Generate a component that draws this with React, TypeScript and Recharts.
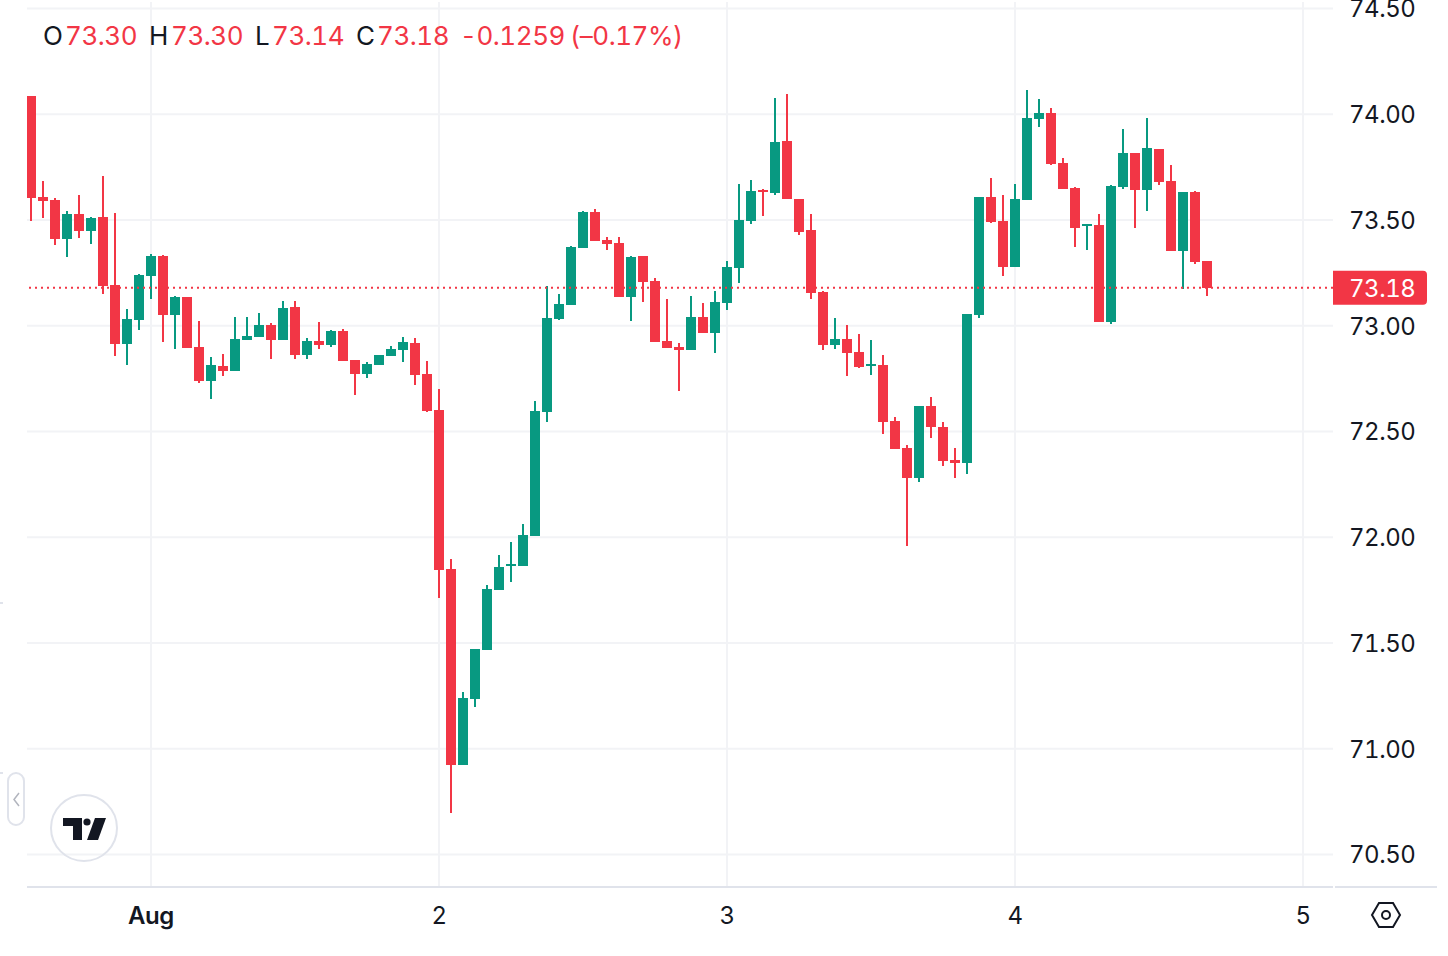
import { Bar, CartesianGrid, ComposedChart, ReferenceLine, XAxis, YAxis } from 'recharts';

const UP = '#089981';
const DOWN = '#f23645';
const INK = '#131722';
const GRID = '#f2f3f6';
const BORDER = '#e0e3eb';
const FONT = 'Inter, sans-serif';

const opens = [
  74.086, 73.609, 73.594, 73.41, 73.528, 73.448, 73.514, 73.192, 72.913, 73.027,
  73.235, 73.33, 73.051, 73.136, 72.899, 72.739, 72.81, 72.786, 72.932, 72.947,
  73.003, 72.932, 73.088, 72.861, 72.928, 72.909, 72.975, 72.838, 72.772, 72.814,
  72.857, 72.885, 72.918, 72.772, 72.601, 71.85, 70.923, 71.235, 71.467, 71.75,
  71.864, 71.864, 72.006, 72.592, 73.032, 73.098, 73.367, 73.538, 73.405, 73.391,
  73.136, 73.33, 73.211, 72.928, 72.899, 72.885, 73.041, 72.966, 73.107, 73.273,
  73.495, 73.642, 73.627, 73.873, 73.599, 73.452, 73.159, 72.909, 72.937, 72.876,
  72.81, 72.814, 72.549, 72.421, 72.28, 72.62, 72.521, 72.365, 72.351, 73.051,
  73.609, 73.495, 73.278, 73.594, 73.977, 74.006, 73.769, 73.651, 73.471, 73.476,
  73.017, 73.656, 73.817, 73.642, 73.835, 73.684, 73.353, 73.632, 73.306,
];
const highs = [
  74.086, 73.684, 73.604, 73.542, 73.618, 73.514, 73.708, 73.533, 73.079, 73.244,
  73.339, 73.334, 73.14, 73.136, 73.022, 72.852, 72.866, 73.041, 73.041, 73.06,
  73.013, 73.117, 73.117, 72.942, 73.017, 72.98, 72.984, 72.838, 72.828, 72.861,
  72.904, 72.947, 72.942, 72.833, 72.701, 71.897, 71.268, 71.471, 71.774, 71.916,
  71.977, 72.062, 72.644, 73.188, 73.15, 73.377, 73.542, 73.552, 73.419, 73.419,
  73.33, 73.33, 73.226, 73.126, 72.918, 73.14, 73.107, 73.164, 73.306, 73.67,
  73.689, 73.646, 74.077, 74.096, 73.599, 73.528, 73.164, 73.036, 73.003, 72.961,
  72.932, 72.861, 72.568, 72.436, 72.62, 72.663, 72.545, 72.421, 73.055, 73.609,
  73.698, 73.618, 73.67, 74.114, 74.072, 74.029, 73.793, 73.656, 73.481, 73.528,
  73.665, 73.93, 73.817, 73.982, 73.835, 73.76, 73.632, 73.637, 73.306,
];
const lows = [
  73.495, 73.509, 73.382, 73.325, 73.415, 73.386, 73.15, 72.857, 72.814, 72.98,
  73.126, 72.923, 72.89, 72.894, 72.729, 72.653, 72.762, 72.786, 72.932, 72.947,
  72.843, 72.932, 72.843, 72.843, 72.89, 72.899, 72.833, 72.672, 72.753, 72.814,
  72.857, 72.828, 72.72, 72.592, 71.712, 70.696, 70.923, 71.197, 71.467, 71.75,
  71.788, 71.864, 72.006, 72.545, 73.027, 73.098, 73.367, 73.4, 73.358, 73.136,
  73.022, 73.112, 72.923, 72.894, 72.691, 72.885, 72.966, 72.871, 73.074, 73.202,
  73.481, 73.519, 73.618, 73.599, 73.429, 73.126, 72.885, 72.89, 72.762, 72.8,
  72.767, 72.488, 72.417, 71.958, 72.261, 72.469, 72.337, 72.28, 72.299, 73.036,
  73.486, 73.235, 73.278, 73.594, 73.939, 73.76, 73.646, 73.372, 73.358, 73.017,
  73.008, 73.646, 73.462, 73.542, 73.665, 73.353, 73.173, 73.292, 73.14,
];
const closes = [
  73.604, 73.59, 73.41, 73.528, 73.448, 73.509, 73.188, 72.913, 73.032, 73.24,
  73.33, 73.051, 73.136, 72.894, 72.739, 72.814, 72.786, 72.937, 72.951, 73.003,
  72.932, 73.084, 72.861, 72.928, 72.909, 72.975, 72.833, 72.772, 72.819, 72.861,
  72.89, 72.923, 72.767, 72.597, 71.845, 70.923, 71.24, 71.471, 71.755, 71.859,
  71.873, 72.01, 72.597, 73.036, 73.103, 73.372, 73.538, 73.4, 73.386, 73.136,
  73.325, 73.206, 72.923, 72.894, 72.885, 73.041, 72.966, 73.112, 73.278, 73.5,
  73.637, 73.632, 73.869, 73.599, 73.443, 73.155, 72.909, 72.937, 72.871, 72.805,
  72.819, 72.545, 72.417, 72.28, 72.62, 72.521, 72.36, 72.351, 73.055, 73.609,
  73.49, 73.278, 73.599, 73.982, 74.006, 73.765, 73.646, 73.462, 73.481, 73.017,
  73.661, 73.817, 73.642, 73.84, 73.679, 73.353, 73.632, 73.301, 73.18,
];

const priceTicks = [70.5, 71, 71.5, 72, 72.5, 73, 73.5, 74, 74.5];
const timeTicks = [10, 34, 58, 82, 106];
const timeLabels = ['Aug', '2', '3', '4', '5'];
const lastPrice = 73.18;

const candles = opens.map((o, i) => ({
  i,
  o,
  h: highs[i],
  l: lows[i],
  c: closes[i],
  range: [lows[i], highs[i]],
}));

function Candle(props: any) {
  const { x, y, width, height, payload } = props;
  const { o, h, l, c } = payload;
  const color = c >= o ? UP : DOWN;
  const cx = Math.round(x + width / 2);
  const perUnit = height / (h - l);
  const top = Math.round(y + (h - Math.max(o, c)) * perUnit);
  const bottom = Math.round(y + (h - Math.min(o, c)) * perUnit);
  return (
    <g>
      <rect x={cx - 1} y={Math.round(y)} width={2} height={Math.round(y + height) - Math.round(y)} fill={color} />
      <rect x={cx - 5} y={top} width={10} height={Math.max(bottom - top, 2)} fill={color} />
    </g>
  );
}

function TimeTick(props: any) {
  const { x, y, index } = props;
  const label = timeLabels[index];
  return (
    <text
      x={x}
      y={y - 1}
      textAnchor="middle"
      dominantBaseline="central"
      fontFamily={FONT}
      fontSize={24}
      fontWeight={label === 'Aug' ? 600 : 400}
      fill={INK}
    >
      {label}
    </text>
  );
}

function PriceBadge(props: any) {
  const { viewBox } = props;
  const left = viewBox.x + viewBox.width;
  const y = viewBox.y;
  return (
    <g>
      <path
        d={`M${left} ${y - 17}H${left + 90}a4 4 0 0 1 4 4V${y + 13}a4 4 0 0 1 -4 4H${left}Z`}
        fill={DOWN}
      />
      <text x={left + 16} y={y + 1} dominantBaseline="central" fontFamily={FONT} fontSize={24} fill="#fff">
        {lastPrice.toFixed(2)}
      </text>
    </g>
  );
}

// O/H/L/C readout, each piece placed where the chart header has it
const header: Array<[number, string, string]> = [
  [43, 'O', INK],
  [65, '73.30', DOWN],
  [149, 'H', INK],
  [171, '73.30', DOWN],
  [255, 'L', INK],
  [272, '73.14', DOWN],
  [356, 'C', INK],
  [377, '73.18', DOWN],
  [460, '-0.1259', DOWN],
  [570, '(\u20130.17%)', DOWN],
];

export default function App() {
  return (
    <div
      style={{
        position: 'absolute',
        left: 0,
        top: 0,
        width: 1448,
        height: 956,
        background: '#fff',
        overflow: 'hidden',
        fontVariantNumeric: 'tabular-nums',
        letterSpacing: '-0.45px',
      }}
    >
      <ComposedChart
        width={1448}
        height={956}
        data={candles}
        margin={{ top: 2, right: 0, bottom: 0, left: 27 }}
      >
        <CartesianGrid stroke={GRID} strokeWidth={2} syncWithTicks />
        <XAxis
          dataKey="i"
          type="number"
          domain={[-1 / 3, 108.5]}
          allowDataOverflow
          ticks={timeTicks}
          interval={0}
          height={69}
          tickLine={false}
          tickSize={0}
          tickMargin={29}
          axisLine={{ stroke: BORDER, strokeWidth: 2 }}
          tick={<TimeTick />}
        />
        <YAxis
          orientation="right"
          type="number"
          domain={[70.3461, 74.5305]}
          allowDataOverflow
          ticks={priceTicks}
          interval={0}
          width={115}
          tickLine={false}
          axisLine={false}
          tickSize={0}
          tickMargin={16}
          tickFormatter={(v: number) => v.toFixed(2)}
          tick={{ fill: INK, fontSize: 24, fontFamily: FONT, dy: 0.5 }}
        />
        <Bar dataKey="range" barSize={10} shape={<Candle />} isAnimationActive={false} />
        <ReferenceLine
          y={lastPrice}
          stroke={DOWN}
          strokeWidth={2}
          strokeDasharray="2 4"
          label={<PriceBadge />}
        />
      </ComposedChart>

      {header.map(([left, text, color], i) => (
        <span
          key={i}
          style={{
            position: 'absolute',
            left,
            top: 19.5,
            fontFamily: FONT,
            fontSize: 26,
            lineHeight: '32px',
            color,
            whiteSpace: 'nowrap',
          }}
        >
          {text}
        </span>
      ))}

      <svg width={1448} height={956} style={{ position: 'absolute', left: 0, top: 0, pointerEvents: 'none' }}>
        {/* scale-pane rule, logo, collapse handle and settings glyph */}
        <rect x={1335} y={886} width={102} height={2} fill={BORDER} />
        <rect x={0} y={602} width={3} height={2} fill={BORDER} />
        <rect x={0} y={772} width={3} height={2} fill={BORDER} />
        <rect x={8} y={773} width={16} height={52} rx={8} fill="#fff" stroke={BORDER} strokeWidth={2} />
        <path d="M19 793l-5 6.5 5 6.5" fill="none" stroke="#b2b5be" strokeWidth={1.5} />
        <circle cx={84} cy={828} r={33} fill="none" stroke={BORDER} strokeWidth={2} />
        <path d="M63 818H82V840H73V826H63Z" fill={INK} />
        <circle cx={87} cy={822} r={3.6} fill={INK} />
        <path d="M95 818H106L98 840H87Z" fill={INK} />
        <path d="M1379 903H1393L1400 915L1393 927H1379L1372 915Z" fill="none" stroke={INK} strokeWidth={2} />
        <circle cx={1386} cy={915} r={4} fill="none" stroke={INK} strokeWidth={2} />
      </svg>
    </div>
  );
}
